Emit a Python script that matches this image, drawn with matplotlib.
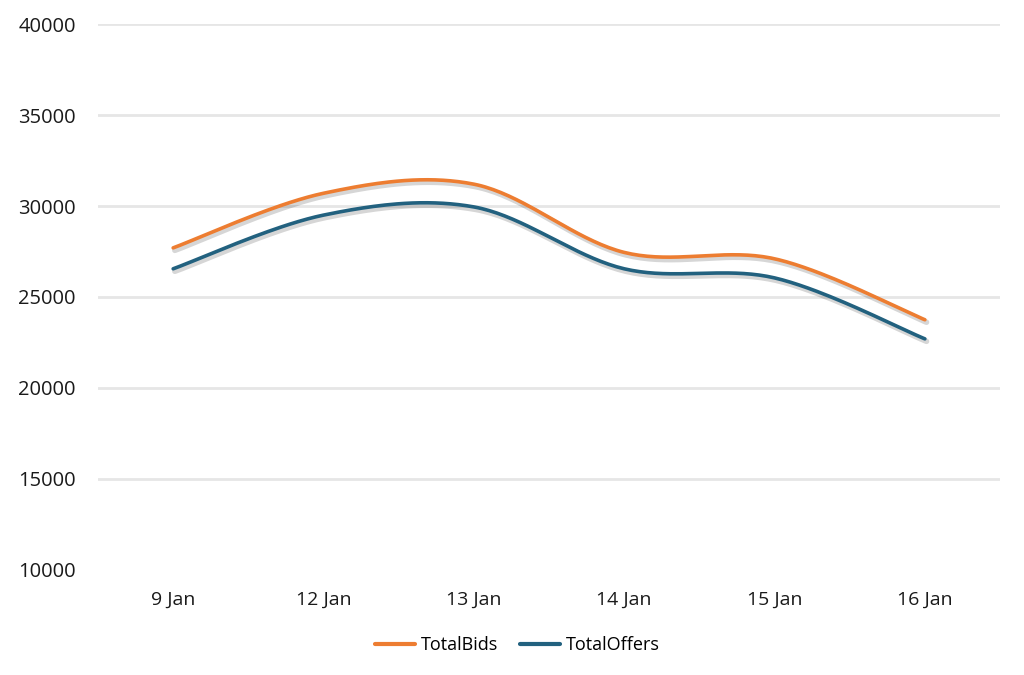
import numpy as np
import matplotlib
matplotlib.use("Agg")
import matplotlib.pyplot as plt
import matplotlib.patheffects as pe

categories = ["9 Jan", "12 Jan", "13 Jan", "14 Jan", "15 Jan", "16 Jan"]
total_bids = [27700, 30700, 31200, 27450, 27100, 23750]
total_offers = [26550, 29500, 29950, 26550, 26050, 22700]
y_ticks = [10000, 15000, 20000, 25000, 30000, 35000, 40000]

BIDS_COLOR = "#ED7D31"
OFFERS_COLOR = "#22617F"


def smooth(xs, ys, n=40):
    xs = np.asarray(xs, float)
    ys = np.asarray(ys, float)
    P = np.column_stack([xs, ys])
    m = len(P)
    out = []
    for i in range(m - 1):
        p0 = P[i - 1] if i > 0 else P[i]
        p1 = P[i]
        p2 = P[i + 1]
        p3 = P[i + 2] if i + 2 < m else P[i + 1]
        c1 = p1 + (p2 - p0) / 6.0
        c2 = p2 - (p3 - p1) / 6.0
        t = np.linspace(0, 1, n)[:, None]
        seg = ((1 - t) ** 3) * p1 + 3 * ((1 - t) ** 2) * t * c1 + 3 * (1 - t) * t ** 2 * c2 + t ** 3 * p2
        if i > 0:
            seg = seg[1:]
        out.append(seg)
    pts = np.vstack(out)
    return pts[:, 0], pts[:, 1]


plt.rcParams["font.family"] = ["Open Sans", "DejaVu Sans"]
fig = plt.figure(figsize=(10.24, 6.75), dpi=100)
ax = fig.add_axes([0.0957, 0.1556, 0.9766 - 0.0957, 0.9644 - 0.1556])

x = np.arange(len(categories))
shadow = [pe.SimpleLineShadow(offset=(1.2, -1.8), shadow_color="black", alpha=0.16, linewidth=4.0), pe.Normal()]
for vals, col, lab in [(total_bids, BIDS_COLOR, "TotalBids"), (total_offers, OFFERS_COLOR, "TotalOffers")]:
    sx, sy = smooth(x, vals)
    ax.plot(sx, sy, color=col, lw=2.6, solid_capstyle="round", label=lab, path_effects=shadow, zorder=3)

ax.set_xlim(-0.5, len(categories) - 0.5)
ax.set_ylim(10000, 40000)
ax.set_yticks(y_ticks)
ax.set_yticklabels([str(v) for v in y_ticks])
ax.set_xticks(x)
ax.set_xticklabels(categories)
for v in y_ticks[1:]:
    ax.axhline(v, color="#E6E6E6", lw=2.0, zorder=1)
for s in ax.spines.values():
    s.set_visible(False)
ax.tick_params(axis="both", length=0, labelsize=14, colors="#1a1a1a")
ax.tick_params(axis="y", pad=16, labelsize=14.5)
ax.tick_params(axis="x", pad=15)

leg = ax.legend(loc="upper center", bbox_to_anchor=(0.465, -0.091), ncol=2, frameon=False,
                fontsize=13, handlelength=2.2, handletextpad=0.35, columnspacing=1.2)
for h in leg.get_lines():
    h.set_path_effects([])
    h.set_linewidth(3)

fig.savefig("out.png", dpi=100, facecolor="white")
